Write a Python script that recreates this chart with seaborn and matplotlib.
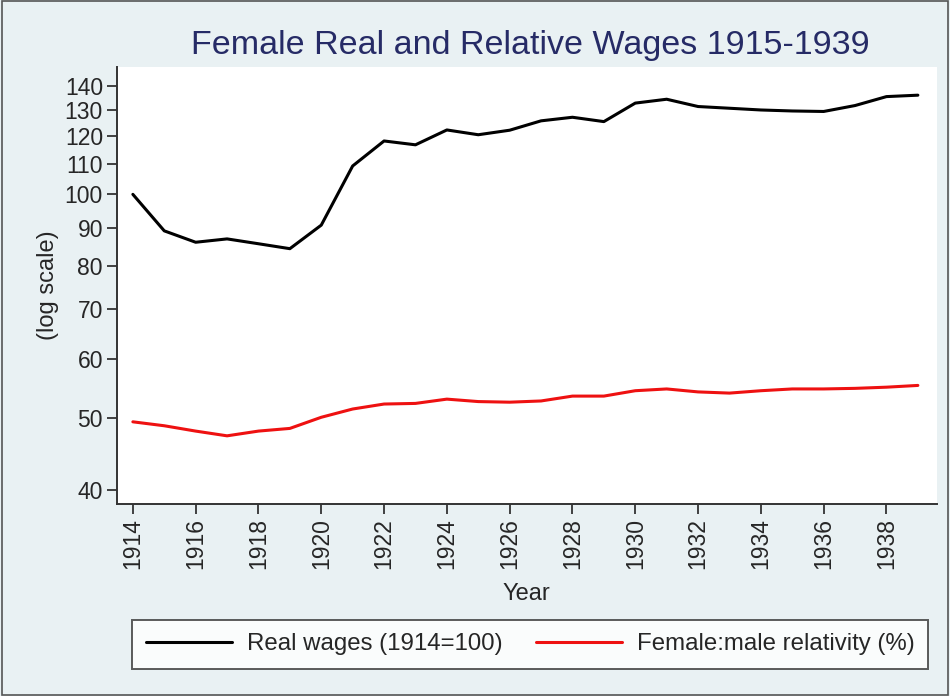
import matplotlib
matplotlib.use("Agg")
import matplotlib.pyplot as plt
from matplotlib.ticker import FixedLocator, NullLocator, FixedFormatter
import seaborn as sns
import pandas as pd

# Values
years = list(range(1914, 1940))
real_wages = [100.0, 89.3, 86.2, 87.1, 85.8, 84.5, 90.9, 109.2, 118.0, 116.6,
              122.1, 120.3, 122.0, 125.6, 127.0, 125.3, 132.7, 134.3, 131.3, 130.6,
              129.9, 129.5, 129.3, 131.7, 135.4, 136.0]
relativity = [49.4, 48.8, 48.0, 47.3, 48.0, 48.4, 50.1, 51.4, 52.2, 52.3,
              53.0, 52.6, 52.5, 52.7, 53.5, 53.5, 54.4, 54.7, 54.2, 54.0,
              54.4, 54.7, 54.7, 54.8, 55.0, 55.3]
series_names = ["Real wages (1914=100)", "Female:male relativity (%)"]
y_ticks = [40, 50, 60, 70, 80, 90, 100, 110, 120, 130, 140]
x_ticks = list(range(1914, 1940, 2))

df = pd.DataFrame({
    "Year": years * 2,
    "value": real_wages + relativity,
    "series": [series_names[0]] * len(years) + [series_names[1]] * len(years),
})

bg = "#e9f1f3"
sns.set_style("white")
plt.rcParams["font.family"] = ["Liberation Sans", "DejaVu Sans"]

fig = plt.figure(figsize=(9.5, 6.96), dpi=100, facecolor=bg)
ax = fig.add_axes([0.123, 0.276, 0.863, 0.628])
ax.set_facecolor("white")

sns.lineplot(data=df, x="Year", y="value", hue="series",
             palette={series_names[0]: "black", series_names[1]: "#ee1111"},
             linewidth=2.2, ax=ax, legend=False)

ax.set_yscale("log")
ax.set_ylim(38.3, 148.5)
ax.set_xlim(1913.49, 1939.6)
ax.yaxis.set_major_locator(FixedLocator(y_ticks))
ax.yaxis.set_major_formatter(FixedFormatter([str(t) for t in y_ticks]))
ax.yaxis.set_minor_locator(NullLocator())
ax.set_xticks(x_ticks)
ax.set_xticklabels([str(t) for t in x_ticks], rotation=90)

for side in ["top", "right"]:
    ax.spines[side].set_visible(False)
for side in ["left", "bottom"]:
    ax.spines[side].set_color("#333333")
    ax.spines[side].set_linewidth(1.4)

ax.tick_params(axis="both", which="major", direction="out", length=7, width=1.3,
               color="#333333", labelsize=16.5, pad=3, left=True, bottom=True)
ax.set_xlabel("Year", fontsize=17, labelpad=10)
ax.set_ylabel("(log scale)", fontsize=17, labelpad=4)

fig.text(0.558, 0.935, "Female Real and Relative Wages 1915-1939",
         ha="center", va="center", fontsize=24.5, color="#262b66")

handles = [plt.Line2D([], [], color="black", linewidth=2.2),
           plt.Line2D([], [], color="#ee1111", linewidth=2.2)]
leg = fig.legend(handles, series_names, loc="center", bbox_to_anchor=(0.558, 0.074),
                 ncol=2, fontsize=17.3, frameon=True, fancybox=False,
                 handlelength=3.6, handletextpad=0.6, columnspacing=1.4,
                 borderpad=0.55)
leg.get_frame().set_edgecolor("#333333")
leg.get_frame().set_linewidth(1.4)
leg.get_frame().set_facecolor("white")

# outer frame of the figure
fig.patches.append(plt.Rectangle((0.002, 0.002), 0.996, 0.996, transform=fig.transFigure,
                                 fill=False, edgecolor="#555555", linewidth=1.2))

fig.savefig("out.png", dpi=100, facecolor=bg)
